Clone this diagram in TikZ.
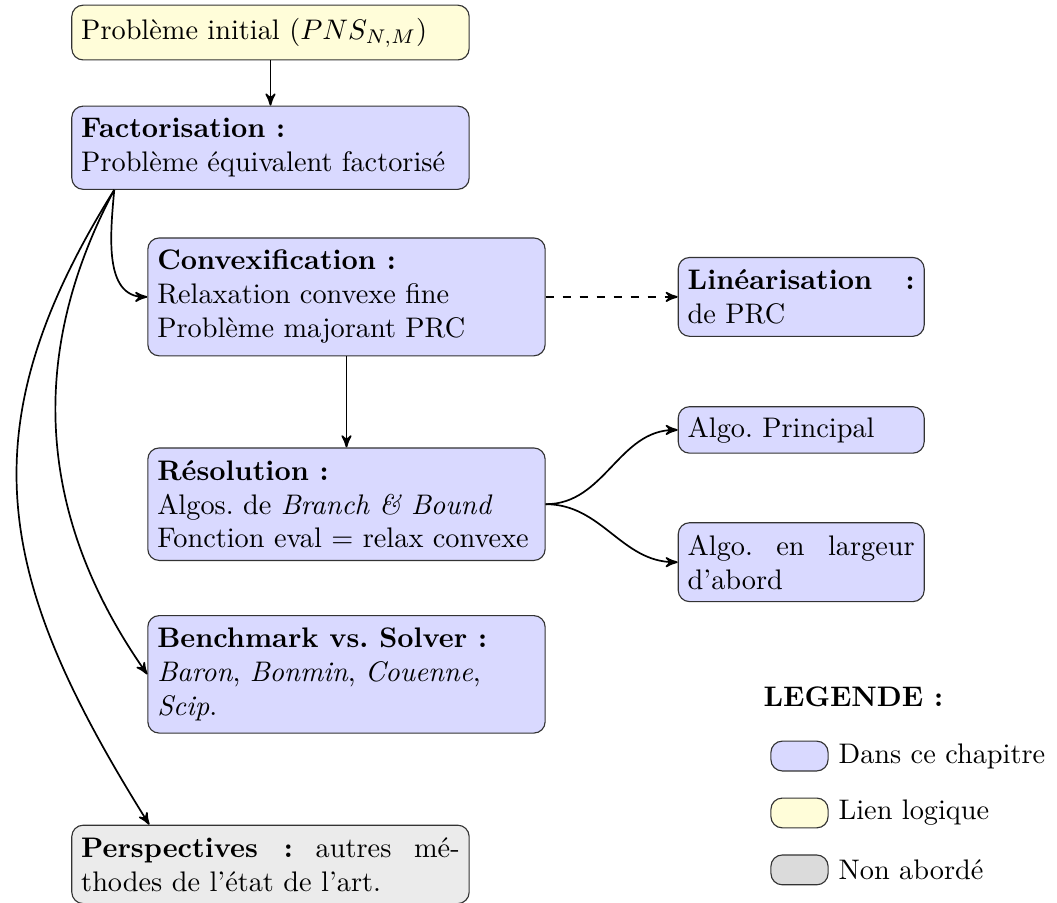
\documentclass[tikz,border=0pt]{standalone}
\usepackage{amsmath}
\usepackage{tikz}
\usetikzlibrary{shapes,arrows}
\usetikzlibrary{positioning}
\frenchspacing
\tikzset{>=stealth', node distance=1cm, font=\fontsize{10}{12}\selectfont}
\tikzstyle{block} = [draw=black!80, fill=blue!15, rectangle, rounded corners, text width=4.7cm, inner ysep=4.3pt, align=justify]
\tikzstyle{smallblock} = [block, text width=2.82cm]
\tikzstyle{logic} = [block, fill=yellow!15]
\tikzstyle{todo} = [block, fill=black!8]
\tikzstyle{legbox} = [draw=black!80, rectangle, rounded corners, minimum width=0.71cm, minimum height=0.37cm, inner sep=0pt]
\tikzstyle{link} = [->, semithick]

\begin{document}
\begin{tikzpicture}
        \useasboundingbox (0,0) rectangle (13.127,-11.202);
        \node [logic, minimum height=0.68cm] (init) at (3.359,-0.404) {Problème initial ($PNS_{N,M}$)};
        \node [block, below=0.56cm of init] (fact) {\textbf{Factorisation :}\\ Problème équivalent factorisé};
        \node [block, below=0.59cm of fact, xshift=0.944cm] (conv) {\textbf{Convexification :}\\ Relaxation convexe fine\\ Problème majorant PRC};
        \node [smallblock, right=1.639cm of conv] (lin) {\textbf{Linéarisation :} de PRC};
        \node [block, below=1.13cm of conv] (reso) {\textbf{Résolution :}\\ Algos. de \textit{Branch \& Bound}\\ Fonction eval $=$ relax convexe};
        \node [smallblock, inner ysep=3.6pt, below=0.86cm of lin] (algp) {Algo. Principal};
        \node [smallblock, below=0.85cm of algp] (algl) {Algo. en largeur d'abord};
        \node [block, below=0.671cm of reso] (bench) {\textbf{Benchmark vs. Solver :}\\ \textit{Baron}, \textit{Bonmin}, \textit{Couenne},\\ \textit{Scip}.};
        \node [todo, below=1.13cm of bench, xshift=-0.944cm] (persp) {\textbf{Perspectives :} autres mé-\linebreak thodes de l'état de l'art.};
        \coordinate (fact_out) at ([xshift=0.534cm]fact.south west);
        \coordinate (persp_in) at ([xshift=0.969cm]persp.north west);

        \draw [link] (init) -- (fact);
        \draw [link] (fact_out) to [out=-95, in=180] (conv.west);
        \draw [link] (fact_out) to [out=-118, in=125] (bench.west);
        \draw [link] (fact_out) to [out=-122, in=122, looseness=1.15] (persp_in);
        \draw [link, dashed] (conv) -- (lin);
        \draw [link] (conv) -- (reso);
        \draw [link] (reso.east) to [out=0, in=180] (algp.west);
        \draw [link] (reso.east) to [out=0, in=180] (algl.west);

        % legende
        \node [anchor=west] (legend) at (9.358,-8.656) {\textbf{LEGENDE :}};
        \node [legbox, fill=blue!15] (leg_chap) at (9.929,-9.389) {};
        \node [legbox, fill=yellow!15, below=0.323cm of leg_chap] (leg_lien) {};
        \node [legbox, fill=black!14, below=0.323cm of leg_lien] (leg_non) {};
        \node [right=0pt of leg_chap] (txt_chap) {Dans ce chapitre};
        \node [right=0pt of leg_lien] (txt_lien) {Lien logique};
        \node [right=0pt of leg_non] (txt_non) {Non abordé};
    \end{tikzpicture}
\end{document}
